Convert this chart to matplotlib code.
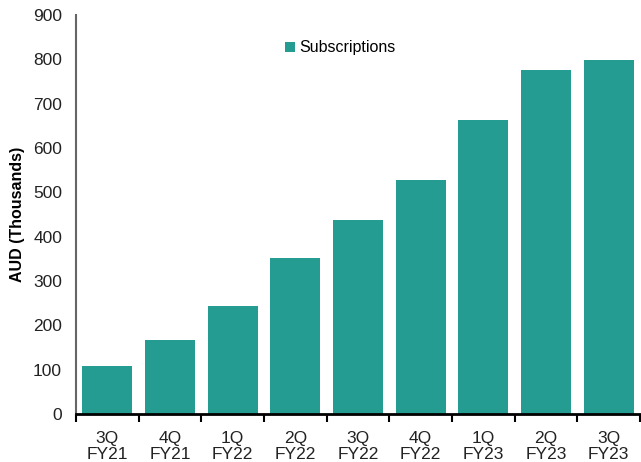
import matplotlib
matplotlib.use("Agg")
import matplotlib.pyplot as plt
import numpy as np

plt.rcParams['font.family'] = ['Liberation Sans', 'DejaVu Sans']

categories = ["3Q\nFY21", "4Q\nFY21", "1Q\nFY22", "2Q\nFY22", "3Q\nFY22",
              "4Q\nFY22", "1Q\nFY23", "2Q\nFY23", "3Q\nFY23"]
subscriptions = [108, 167, 244, 352, 438, 528, 663, 776, 799]
yticks = [0, 100, 200, 300, 400, 500, 600, 700, 800, 900]

color = "#259C91"

fig = plt.figure(figsize=(6.41, 4.62), dpi=100)
ax = fig.add_axes([76/641, 1 - 414/462, (640-76)/641, (414-15)/462])

x = np.arange(len(categories))
ax.bar(x, subscriptions, width=0.8, color=color, label="Subscriptions", zorder=2)

ax.set_xlim(-0.5, len(categories) - 0.5)
ax.set_ylim(0, 900)
ax.set_yticks(yticks)
ax.tick_params(axis='y', length=0, labelsize=12.5, pad=10, colors='#222222')

ax.set_xticks(x)
ax.set_xticklabels(categories)
ax.set_xticks(np.arange(len(categories) + 1) - 0.5, minor=True)
ax.tick_params(axis='x', which='major', length=0, labelsize=12.5, pad=12, colors='#222222')
ax.tick_params(axis='x', which='minor', length=6, width=1.5, color='black', direction='out')
for lbl in ax.get_xticklabels():
    lbl.set_linespacing(1.15)

for s in ['top', 'right']:
    ax.spines[s].set_visible(False)
ax.spines['left'].set_color('#666666')
ax.spines['left'].set_linewidth(1.5)
ax.spines['bottom'].set_color('black')
ax.spines['bottom'].set_linewidth(2)

ax.set_ylabel("AUD (Thousands)", fontsize=11.5, fontweight='bold', labelpad=6)

leg = ax.legend(loc='upper left', bbox_to_anchor=((279-76)/564, 1 - (34-15)/399),
                frameon=False, fontsize=11.5, handlelength=0.6, handleheight=0.6,
                handletextpad=0.3, borderaxespad=0)

fig.savefig("out.png", dpi=100)
